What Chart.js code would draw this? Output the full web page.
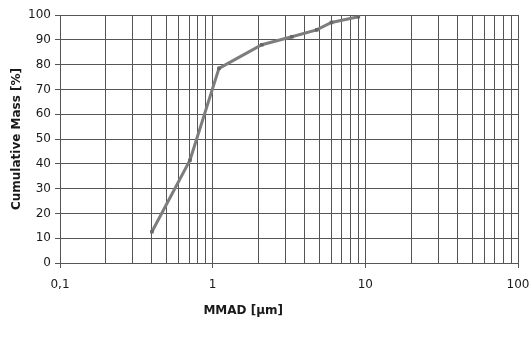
<!DOCTYPE html>
<html>
<head>
<meta charset="utf-8">
<script src="https://cdn.jsdelivr.net/npm/chart.js@4"></script>
<style>
html, body { margin: 0; padding: 0; background: #fff; }
</style>
</head>
<body>
<canvas id="myChart" width="532" height="337"></canvas>
<script>
// particle size (MMAD, µm) vs cumulative mass (%)
const sizes = [0.4, 0.71, 1.1, 2.1, 3.3, 4.8, 6.0, 9.0];
const cumMass = [12.6, 41.5, 78.5, 88, 91.2, 94, 97, 99.3];

const decades = [0.1, 1, 10, 100];
const decadeLabels = ['0,1', '1', '10', '100'];

const yMin = 0;
const yMax = 100;
const yStep = 10;

// log grid: 1..9 in every decade
const xGrid = [];
for (let i = 0; i < decades.length - 1; i++) {
	for (let k = 1; k < 10; k++) {
		xGrid.push(parseFloat((k * decades[i]).toPrecision(6)));
	}
}
xGrid.push(decades[decades.length - 1]);

const gridColor = '#555';
const tickFont = {family: 'DejaVu Sans', size: 12};

const xTitle = {
	id: 'xTitle',
	afterDraw(chart) {
		const ctx = chart.ctx;
		const area = chart.chartArea;
		ctx.save();
		ctx.font = 'bold 12px "DejaVu Sans"';
		ctx.fillStyle = '#1a1a1a';
		ctx.textAlign = 'center';
		ctx.textBaseline = 'middle';
		ctx.fillText('MMAD [μm]', area.left + (area.right - area.left) * 0.4, area.bottom + 48);
		ctx.restore();
	}
};

const data = {
	datasets: [{
		label: 'Cumulative Mass',
		data: sizes.map((x, i) => ({x, y: cumMass[i]})),
		borderColor: '#7d7d7d',
		borderWidth: 3,
		backgroundColor: '#666',
		pointStyle: 'rect',
		pointRadius: 2.5,
		pointBorderWidth: 0,
		tension: 0
	}]
};

const options = {
	responsive: false,
	maintainAspectRatio: false,
	animation: false,
	layout: {padding: {left: 4, right: 14, top: 15, bottom: 0}},
	plugins: {legend: {display: false}, tooltip: {enabled: false}},
	scales: {
		x: {
			type: 'logarithmic',
			min: decades[0],
			max: decades[decades.length - 1],
			afterBuildTicks(scale) {
				scale.ticks = xGrid.map(v => ({value: v}));
			},
			afterFit(scale) {
				scale.height = 74;
				scale.paddingLeft = 0;
				scale.paddingRight = 0;
			},
			ticks: {
				autoSkip: false,
				maxRotation: 0,
				padding: 10,
				color: '#1a1a1a',
				font: tickFont,
				callback(value) {
					const idx = decades.findIndex(d => Math.abs(d - value) < 1e-9);
					return idx >= 0 ? decadeLabels[idx] : '';
				}
			},
			grid: {
				color: gridColor,
				lineWidth: 1,
				tickLength: 5,
				tickColor: ctx => decades.some(d => Math.abs(d - ctx.tick.value) < 1e-9) ? gridColor : 'rgba(0,0,0,0)'
			},
			border: {color: gridColor, width: 1}
		},
		y: {
			min: yMin,
			max: yMax,
			afterFit(scale) {
				scale.width = 56;
				scale.paddingTop = 0;
				scale.paddingBottom = 0;
			},
			ticks: {stepSize: yStep, padding: 4, color: '#1a1a1a', font: tickFont},
			grid: {color: gridColor, lineWidth: 1, tickLength: 5, tickColor: gridColor},
			border: {color: gridColor, width: 1},
			title: {
				display: true,
				text: 'Cumulative Mass [%]',
				color: '#1a1a1a',
				font: {family: 'DejaVu Sans', size: 12, weight: 'bold'},
				padding: {top: 6, bottom: 0}
			}
		}
	}
};

const ctx = document.getElementById('myChart').getContext('2d');
const chart = new Chart(ctx, {type: 'line', data, options, plugins: [xTitle]});
</script>
</body>
</html>
